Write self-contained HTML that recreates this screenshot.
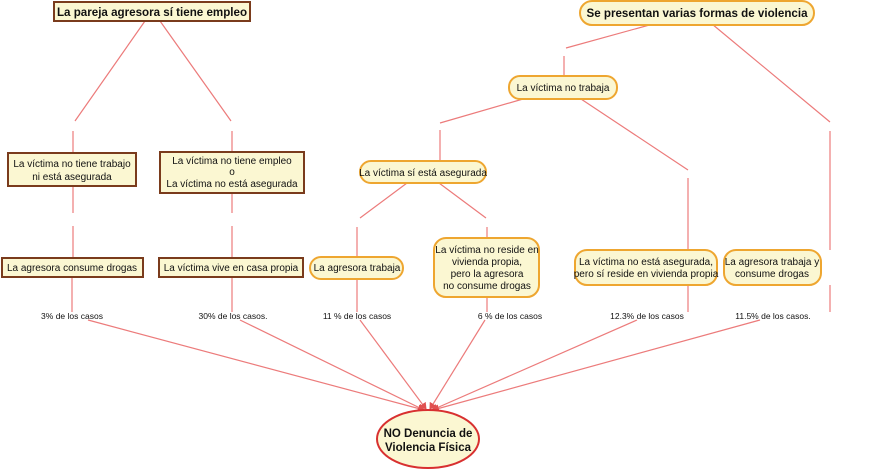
<!DOCTYPE html>
<html><head><meta charset="utf-8"><style>
html,body{margin:0;padding:0;background:#fff;width:886px;height:470px;overflow:hidden}
svg{display:block}
text{font-family:"Liberation Sans",sans-serif;fill:#111}
</style></head><body>
<svg width="886" height="470" viewBox="0 0 886 470" xmlns="http://www.w3.org/2000/svg">
<defs><marker id="ar" markerWidth="8" markerHeight="8" refX="6" refY="4" orient="auto" markerUnits="userSpaceOnUse"><path d="M0,0 L7,4 L0,8 z" fill="#e05050"/></marker></defs>
<g stroke="#ec7b7b" stroke-width="1.2" fill="none">
<path d="M145,21 L75,121 M73,131 L73,153 M73,186 L73,213 M73,226 L73,258 M72,277 L72,312"/>
<path d="M160,21 L231,121 M232,131 L232,152 M232,193 L232,213 M232,226 L232,258 M232,277 L232,312"/>
<path d="M653,24 L566,48 M564,56 L564,76"/>
<path d="M712,24 L830,122 M830,131 L830,250 M830,285 L830,312"/>
<path d="M523,99 L440,123 M440,130 L440,160"/>
<path d="M581,99 L688,170 M688,178 L688,250 M688,285 L688,312"/>
<path d="M407,183 L360,218 M357,227 L357,256 M357,279 L357,312"/>
<path d="M439,183 L486,218 M487,227 L487,238 M487,297 L487,312"/>
<path d="M88,320 L424,410" marker-end="url(#ar)"/>
<path d="M240,320 L424,410" marker-end="url(#ar)"/>
<path d="M360,320 L426,409" marker-end="url(#ar)"/>
<path d="M485,320 L430,409" marker-end="url(#ar)"/>
<path d="M637,320 L432,410" marker-end="url(#ar)"/>
<path d="M760,320 L433,410" marker-end="url(#ar)"/>
</g>
<g stroke="#7a3b1c" stroke-width="2" fill="#fbf7d2">
<rect x="54" y="2" width="196" height="19"/>
<rect x="8" y="153" width="128" height="33"/>
<rect x="160" y="152" width="144" height="41"/>
<rect x="2" y="258" width="141" height="19"/>
<rect x="159" y="258" width="144" height="19"/>
</g>
<g stroke="#eea630" stroke-width="2" fill="#fbf7d2">
<rect x="580" y="1" width="234" height="24" rx="12"/>
<rect x="509" y="76" width="108" height="23" rx="11"/>
<rect x="360" y="161" width="126" height="22" rx="11"/>
<rect x="310" y="257" width="93" height="22" rx="11"/>
<rect x="434" y="238" width="105" height="59" rx="12"/>
<rect x="575" y="250" width="142" height="35" rx="12"/>
<rect x="724" y="250" width="97" height="35" rx="12"/>
</g>
<ellipse cx="428" cy="439" rx="51" ry="29" fill="#fbf7d2" stroke="#d83030" stroke-width="2"/>
<g font-size="10" text-anchor="middle">
<text x="152" y="16" font-weight="bold" font-size="11.6">La pareja agresora sí tiene empleo</text>
<text x="697" y="17" font-weight="bold" font-size="11.6">Se presentan varias formas de violencia</text>
<text x="563" y="91">La víctima no trabaja</text>
<text x="423" y="176">La víctima sí está asegurada</text>
<text x="72" y="167">La víctima no tiene trabajo</text>
<text x="72" y="180">ni está asegurada</text>
<text x="232" y="164">La víctima no tiene empleo</text>
<text x="232" y="175">o</text>
<text x="232" y="187">La víctima no está asegurada</text>
<text x="72" y="271">La agresora consume drogas</text>
<text x="231" y="271">La víctima vive en casa propia</text>
<text x="357" y="271">La agresora trabaja</text>
<text x="487" y="253">La víctima no reside en</text>
<text x="487" y="265">vivienda propia,</text>
<text x="487" y="277">pero la agresora</text>
<text x="487" y="289">no consume drogas</text>
<text x="646" y="265">La víctima no está asegurada,</text>
<text x="646" y="277">pero sí reside en vivienda propia</text>
<text x="772" y="265">La agresora trabaja y</text>
<text x="772" y="277">consume drogas</text>
</g>
<g font-size="8.5" text-anchor="middle">
<text x="72" y="319">3% de los casos</text>
<text x="233" y="319">30% de los casos.</text>
<text x="357" y="319">11 % de los casos</text>
<text x="510" y="319">6 % de los casos</text>
<text x="647" y="319">12.3% de los casos</text>
<text x="773" y="319">11.5% de los casos.</text>
</g>
<g font-size="11.5" font-weight="bold" text-anchor="middle">
<text x="428" y="437">NO Denuncia de</text>
<text x="428" y="451">Violencia Física</text>
</g>
</svg>
</body></html>
